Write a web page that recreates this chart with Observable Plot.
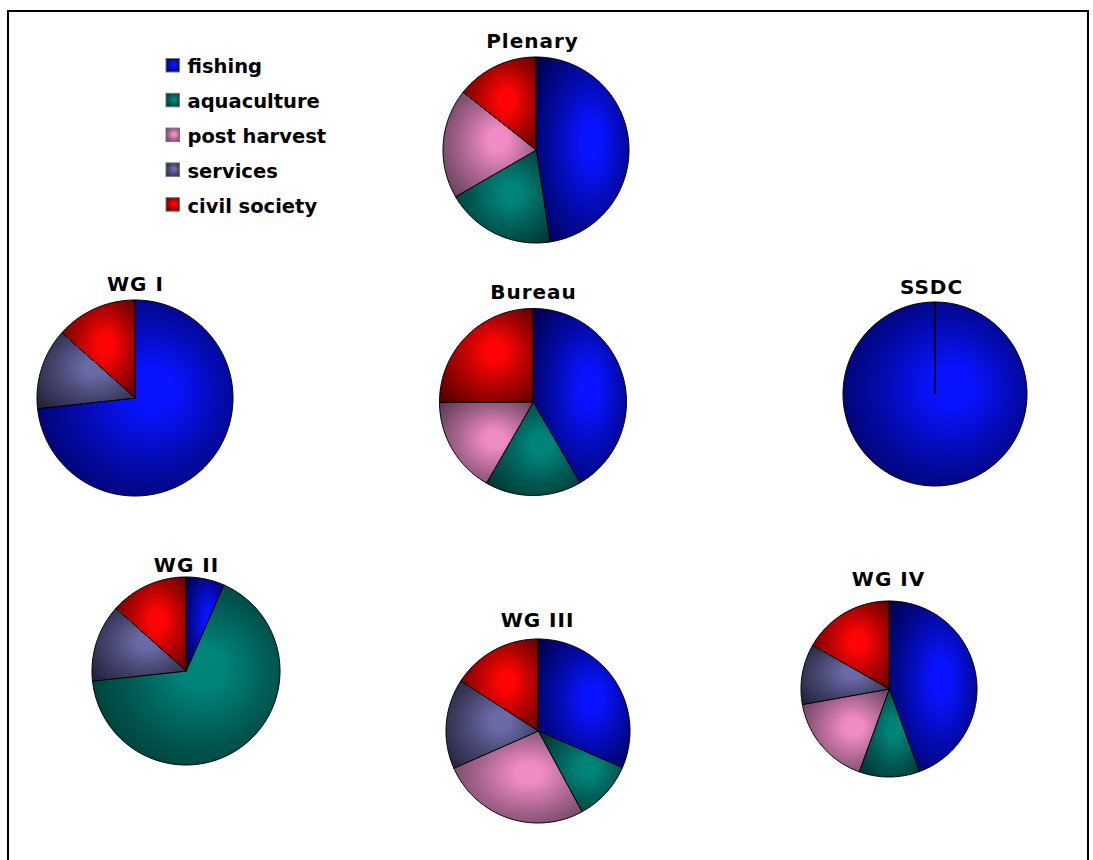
<!DOCTYPE html>
<html>
<head>
<meta charset="utf-8">
<script src="https://cdn.jsdelivr.net/npm/d3@7"></script>
<script src="https://cdn.jsdelivr.net/npm/@observablehq/plot@0.6"></script>
<style>
html, body { margin: 0; padding: 0; background: #fff; overflow: hidden; }
#frame { position: absolute; left: 7px; top: 10px; width: 1078px; height: 900px; border: 2px solid #000; border-bottom: none; }
#chart { position: absolute; left: 0; top: 0; }
g[font-size="20"] text { letter-spacing: 1px; }
</style>
</head>
<body>
<div id="frame"></div>
<div id="chart"></div>
<script>
// ---- data ----
const categories = ["fishing", "aquaculture", "post harvest", "services", "civil society"];
const groups = ["Plenary", "WG I", "Bureau", "SSDC", "WG II", "WG III", "WG IV"];
const fishing      = [10, 11, 5, 1, 1, 6, 8];
const aquaculture  = [4, 0, 2, 0, 10, 2, 2];
const postHarvest  = [4, 0, 2, 0, 0, 5, 3];
const services     = [0, 2, 0, 0, 2, 3, 2];
const civilSociety = [3, 2, 3, 0, 2, 3, 3];

// ---- layout (pixels) ----
const centerX = [536, 135, 533, 935, 186, 538, 889];
const centerY = [150, 398, 402, 394, 671, 731, 689];
const radius  = [93, 98, 93.5, 92, 94, 92, 88];
const titleX  = [532, 135, 533, 931, 186, 537, 888];
const titleY  = [47, 290, 298, 293, 571, 626, 585];
const legendX = 166, legendTextX = 187, legendY0 = 58.5, legendStep = 34.8, swatch = 13.5;

// ---- styles ----
const brightColors = ["#0814ff", "#00847a", "#f08cc4", "#6a6aa6", "#ff0404"];
const darkColors   = ["#000050", "#00302c", "#5e3c55", "#22223a", "#560000"];

const series = [fishing, aquaculture, postHarvest, services, civilSociety];

// build wedge outlines through d3.pie
const slices = [];
groups.forEach((g, gi) => {
  const vals = series.map(s => s[gi]);
  const arcs = d3.pie().sort(null)(vals);
  arcs.forEach((a, ci) => {
    if (a.value === 0) return;
    const n = Math.max(2, Math.ceil((a.endAngle - a.startAngle) / (Math.PI / 180)));
    for (let k = 0; k <= n; k++) {
      const t = a.startAngle + (a.endAngle - a.startAngle) * k / n;
      slices.push({
        group: g, cat: ci, key: g + "|" + ci,
        ax: centerX[gi] + radius[gi] * Math.sin(t),
        ay: centerY[gi] - radius[gi] * Math.cos(t),
        cx: centerX[gi], cy: centerY[gi]
      });
    }
  });
});

const defsMark = () => {
  const defs = d3.create("svg:defs");
  categories.forEach((c, i) => {
    const mid = d3.interpolateRgb(brightColors[i], darkColors[i]);
    const rg = defs.append("radialGradient")
      .attr("id", "pieGrad" + i)
      .attr("cx", 0.55).attr("cy", 0.5).attr("r", 0.7)
      .attr("fx", 0.6).attr("fy", 0.45);
    rg.append("stop").attr("offset", "0").attr("stop-color", brightColors[i]);
    rg.append("stop").attr("offset", "0.15").attr("stop-color", brightColors[i]);
    rg.append("stop").attr("offset", "0.55").attr("stop-color", mid(0.5));
    rg.append("stop").attr("offset", "1").attr("stop-color", darkColors[i]);
  });
  return defs.node();
};

const marks = [defsMark];
categories.forEach((c, ci) => {
  marks.push(Plot.area(slices.filter(d => d.cat === ci), {
    x1: "ax", y1: "ay", x2: "cx", y2: "cy", z: "key",
    fill: `url(#pieGrad${ci})`, stroke: "#000", strokeWidth: 1, strokeLinejoin: "round"
  }));
  marks.push(Plot.rect([c], {
    x1: () => legendX, x2: () => legendX + swatch,
    y1: () => legendY0 + ci * legendStep, y2: () => legendY0 + ci * legendStep + swatch,
    fill: `url(#pieGrad${ci})`, stroke: "#777", strokeWidth: 1
  }));
});
marks.push(Plot.text(categories, {
  x: () => legendTextX, y: (d, i) => legendY0 + i * legendStep + 14.3, text: d => d,
  textAnchor: "start", lineAnchor: "bottom", fontFamily: "DejaVu Sans", fontWeight: "bold",
  fontSize: 19.5, fill: "#000"
}));
marks.push(Plot.text(groups, {
  x: (d, i) => titleX[i], y: (d, i) => titleY[i], text: d => d,
  textAnchor: "middle", lineAnchor: "bottom", fontFamily: "DejaVu Sans", fontWeight: "bold",
  fontSize: 20, fill: "#000"
}));

const chart = Plot.plot({
  width: 1093, height: 860, margin: 0,
  x: { domain: [0, 1093], range: [0, 1093], axis: null },
  y: { domain: [0, 860], range: [0, 860], axis: null },
  style: { background: "transparent", overflow: "visible" },
  marks
});
document.getElementById("chart").appendChild(chart);
</script>
</body>
</html>
